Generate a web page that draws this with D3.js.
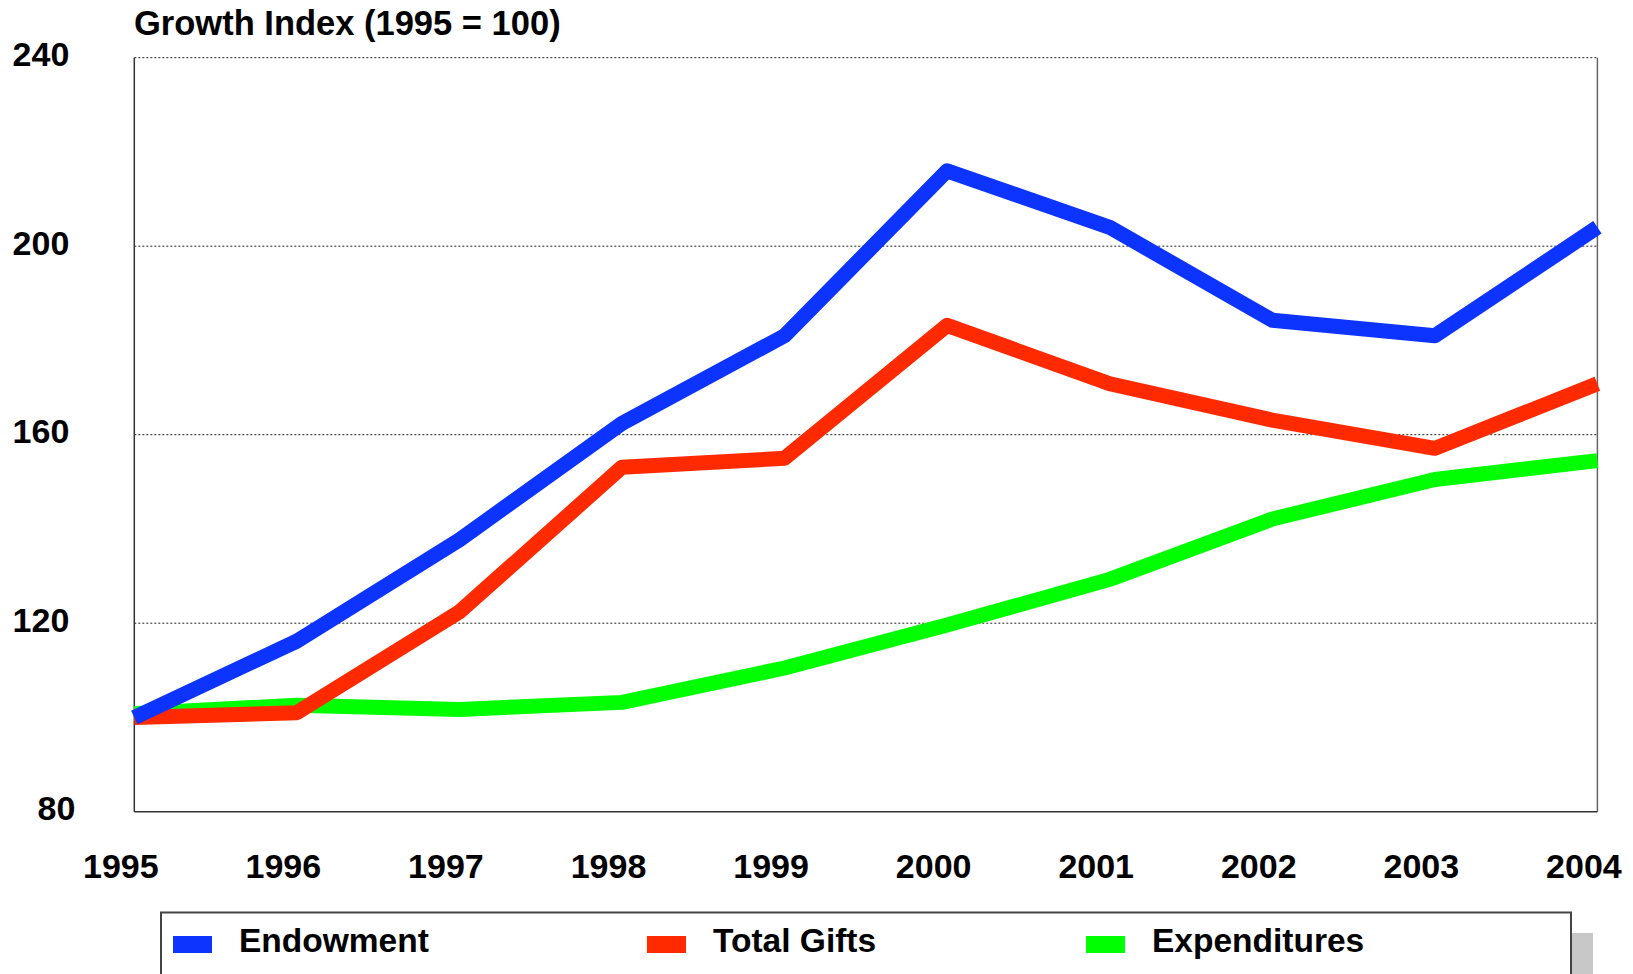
<!DOCTYPE html>
<html>
<head>
<meta charset="utf-8">
<script src="https://cdn.jsdelivr.net/npm/d3@7"></script>
<style>
  html, body { margin: 0; padding: 0; background: #fff; overflow: hidden; }
  svg { display: block; font-family: "Liberation Sans", Arial, Helvetica, sans-serif; font-weight: bold; }
</style>
</head>
<body>
<svg id="chart" width="1633" height="974"></svg>
<script>
// ---- data ----
const years = [1995, 1996, 1997, 1998, 1999, 2000, 2001, 2002, 2003, 2004];
const endowment    = [100, 116.2, 137.7, 162.4, 181, 216, 204, 184.3, 181, 204];
const totalGifts   = [100, 101, 122.4, 153.1, 155, 183.2, 170.8, 163.1, 157.1, 170.8];
const expenditures = [100.8, 102.6, 101.7, 103.2, 110.5, 119.6, 129.3, 142.1, 150.5, 154.5];
const yTicks = [80, 120, 160, 200, 240];
const seriesNames = ["Endowment", "Total Gifts", "Expenditures"];
const seriesColors = ["#0D33FF", "#FF2A00", "#00FF00"];
const titleText = "Growth Index (1995 = 100)";

// ---- layout ----
const L = 134.3, R = 1597.4, T = 57.7, B = 811.7;
const svg = d3.select("#chart");

const x = d3.scaleLinear().domain([1995, 2004]).range([L, R]);
const y = d3.scaleLinear().domain([80, 240]).range([B, T]);

// gridlines (dotted), including top edge
svg.append("g")
  .selectAll("line")
  .data(yTicks.filter(d => d > 80))
  .join("line")
  .attr("x1", L).attr("x2", R)
  .attr("y1", d => y(d)).attr("y2", d => y(d))
  .attr("stroke", "#222")
  .attr("stroke-width", 1)
  .attr("stroke-dasharray", "2,2");

// left, right, bottom borders
svg.append("line").attr("x1", L).attr("x2", L).attr("y1", T).attr("y2", B)
  .attr("stroke", "#333").attr("stroke-width", 1.5);
svg.append("line").attr("x1", R).attr("x2", R).attr("y1", T).attr("y2", B)
  .attr("stroke", "#666").attr("stroke-width", 1.5);
svg.append("line").attr("x1", L).attr("x2", R).attr("y1", B).attr("y2", B)
  .attr("stroke", "#333").attr("stroke-width", 1.5);

// lines
const series = [expenditures, totalGifts, endowment];
const cols = [seriesColors[2], seriesColors[1], seriesColors[0]];
const line = d3.line().x((d, i) => x(years[i])).y(d => y(d));
svg.append("g")
  .selectAll("path")
  .data(series)
  .join("path")
  .attr("d", d => line(d))
  .attr("fill", "none")
  .attr("stroke", (d, i) => cols[i])
  .attr("stroke-width", 15)
  .attr("stroke-linejoin", "round")
  .attr("stroke-linecap", "butt");

// x axis
const xAxis = svg.append("g")
  .attr("transform", `translate(0,${B})`)
  .call(d3.axisBottom(x).tickValues(years).tickFormat(d3.format("d")).tickSize(0));
xAxis.select(".domain").remove();
xAxis.selectAll("text")
  .attr("y", 66).attr("dy", 0).attr("dx", -14)
  .attr("fill", "#000")
  .style("font-size", "34px")
  .style("font-family", "'Liberation Sans', Arial, sans-serif")
  .style("font-weight", "bold");

// y axis
const yAxis = svg.append("g")
  .attr("transform", `translate(${L},0)`)
  .call(d3.axisLeft(y).tickValues(yTicks).tickFormat(d3.format("d")).tickSize(0));
yAxis.select(".domain").remove();
yAxis.selectAll("text")
  .attr("x", d => d === 80 ? -59 : -65).attr("dy", 0).attr("y", 8)
  .attr("fill", "#000")
  .style("font-size", "34px")
  .style("font-family", "'Liberation Sans', Arial, sans-serif")
  .style("font-weight", "bold");

// title
svg.append("text")
  .attr("x", 134).attr("y", 35)
  .attr("fill", "#000")
  .style("font-size", "34.5px")
  .text(titleText);

// legend
const legend = svg.append("g");
legend.append("rect")
  .attr("x", 1571).attr("y", 933).attr("width", 22).attr("height", 60)
  .attr("fill", "#c8c8c8");
legend.append("rect")
  .attr("x", 161).attr("y", 912.5).attr("width", 1410).attr("height", 80)
  .attr("fill", "#fff").attr("stroke", "#444").attr("stroke-width", 2);

const legX = [173, 647, 1086];
const items = legend.selectAll("g.item")
  .data(seriesNames)
  .join("g")
  .attr("class", "item")
  .attr("transform", (d, i) => `translate(${legX[i]},0)`);
items.append("rect")
  .attr("x", 0).attr("y", 936).attr("width", 39).attr("height", 17)
  .attr("fill", (d, i) => seriesColors[i]);
items.append("text")
  .attr("x", 66).attr("y", 952)
  .attr("fill", "#000")
  .style("font-size", "33.5px")
  .text(d => d);
</script>
</body>
</html>
